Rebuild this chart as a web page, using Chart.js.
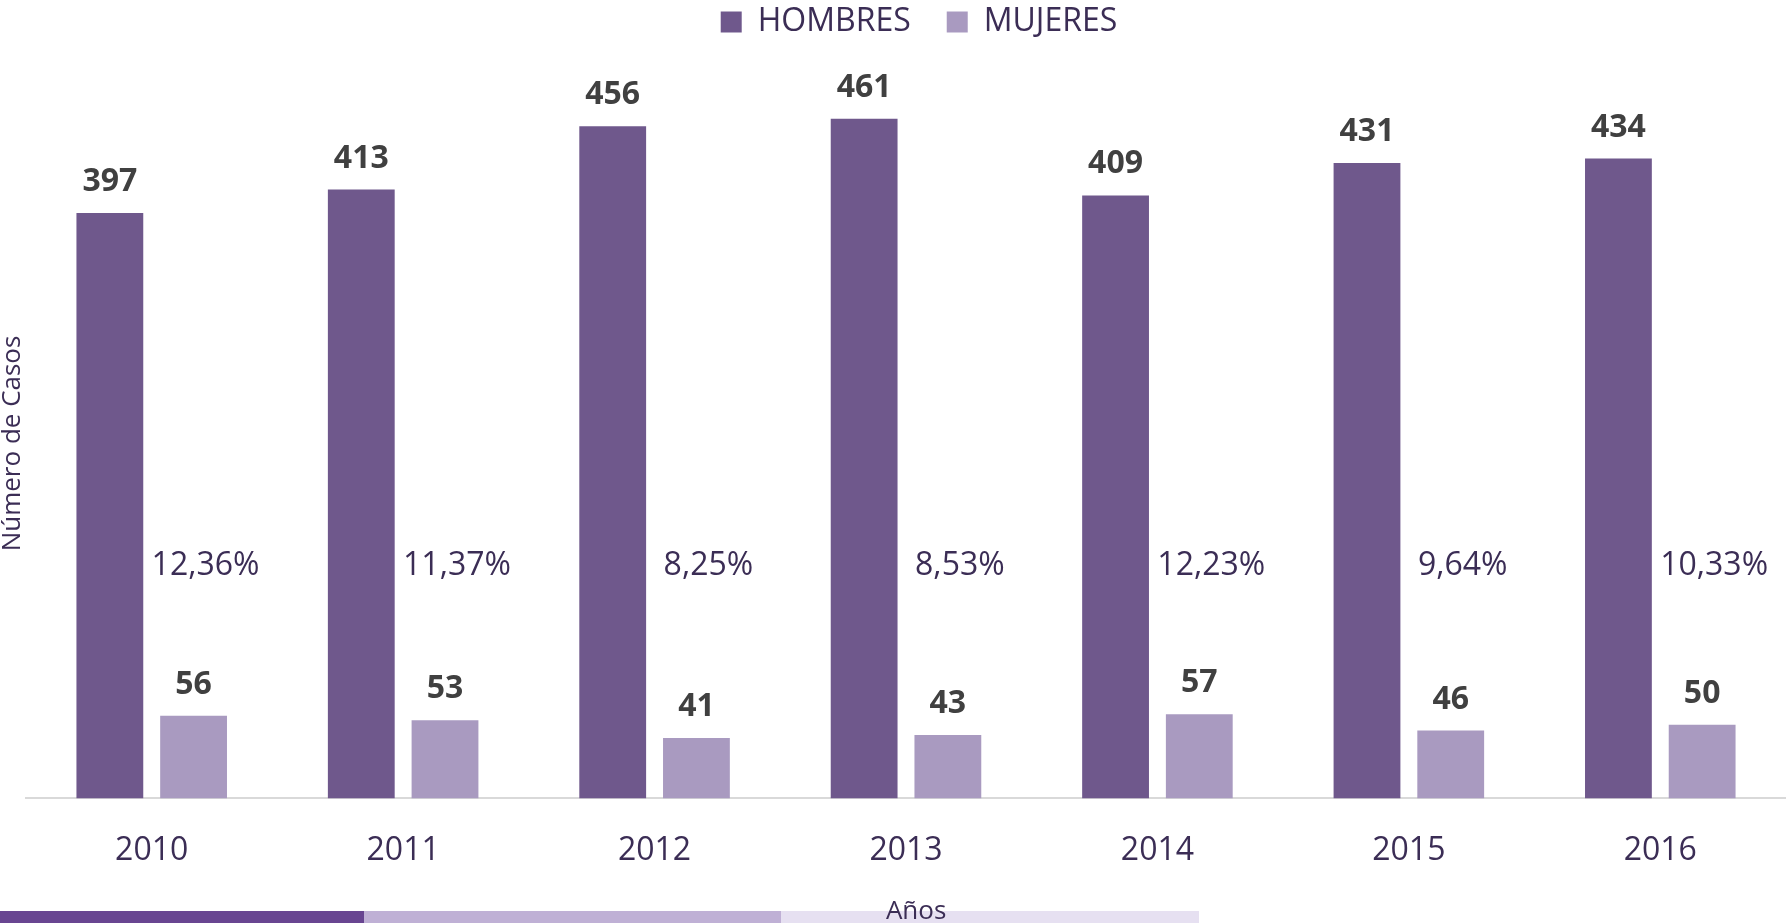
<!DOCTYPE html>
<html lang="es">
<head>
<meta charset="utf-8">
<title>Número de casos por sexo 2010-2016</title>
<script src="https://cdn.jsdelivr.net/npm/chart.js@4.4.1/dist/chart.umd.min.js"></script>
<style>
  html, body { margin: 0; padding: 0; background: #ffffff; }
  #contenedor { position: relative; width: 1786px; height: 923px; }
</style>
</head>
<body>
<div id="contenedor"><canvas id="grafico"></canvas></div>
<script>
const anios = ['2010', '2011', '2012', '2013', '2014', '2015', '2016'];
const hombres = [397, 413, 456, 461, 409, 431, 434];
const mujeres = [56, 53, 41, 43, 57, 46, 50];
const porcentajes = ['12,36%', '11,37%', '8,25%', '8,53%', '12,23%', '9,64%', '10,33%'];

const colorHombres = '#6f588c';
const colorMujeres = '#a99ac0';
const textoOscuro = '#3b2d55';
const fuente = '"Open Sans", "Liberation Sans", sans-serif';

// franja decorativa al pie del grafico
const franjaInferior = {
    id: 'franjaInferior',
    beforeDraw(chart) {
        const ctx = chart.ctx;
        const alto = chart.height;
        const tramos = [
            { desde: 0, hasta: 364, color: '#684591' },
            { desde: 364, hasta: 781, color: '#bfb0d5' },
            { desde: 781, hasta: 1199, color: '#e6e0f1' }
        ];
        ctx.save();
        tramos.forEach(t => {
            ctx.fillStyle = t.color;
            ctx.fillRect(t.desde, alto - 12, t.hasta - t.desde, 12);
        });
        ctx.restore();
    }
};

// la leyenda del original esta un poco corrida a la derecha
const moverLeyenda = {
    id: 'moverLeyenda',
    afterLayout(chart) {
        chart.legend.left += 26;
        chart.legend.right += 26;
    }
};

// valores encima de las barras y porcentaje de mujeres
const etiquetas = {
    id: 'etiquetas',
    afterDatasetsDraw(chart) {
        const ctx = chart.ctx;
        const area = chart.chartArea;
        ctx.save();
        ctx.textAlign = 'center';
        ctx.textBaseline = 'alphabetic';
        ctx.fillStyle = '#404040';
        ctx.font = 'bold 32px ' + fuente;
        chart.data.datasets.forEach((ds, i) => {
            chart.getDatasetMeta(i).data.forEach((barra, j) => {
                ctx.fillText(String(ds.data[j]), barra.x, barra.y - 22);
            });
        });

        const yPorc = area.bottom - 0.3105 * (area.bottom - area.top);
        ctx.font = '32px ' + fuente;
        ctx.fillStyle = textoOscuro;
        ctx.textBaseline = 'middle';
        chart.getDatasetMeta(1).data.forEach((barra, j) => {
            ctx.fillText(porcentajes[j], barra.x + 12, yPorc);
        });
        ctx.restore();
    }
};

new Chart(document.getElementById('grafico'), {
    type: 'bar',
    data: {
        labels: anios,
        datasets: [
            {
                label: 'HOMBRES',
                data: hombres,
                backgroundColor: colorHombres,
                categoryPercentage: 0.666,
                barPercentage: 0.798
            },
            {
                label: 'MUJERES',
                data: mujeres,
                backgroundColor: colorMujeres,
                categoryPercentage: 0.666,
                barPercentage: 0.798
            }
        ]
    },
    options: {
        responsive: true,
        maintainAspectRatio: false,
        animation: false,
        layout: { padding: { top: -30, left: 0, right: 0, bottom: 0 } },
        plugins: {
            tooltip: { enabled: false },
            legend: {
                position: 'top',
                labels: {
                    boxWidth: 21,
                    boxHeight: 21,
                    padding: 36,
                    color: textoOscuro,
                    font: { family: fuente, size: 32 }
                }
            }
        },
        scales: {
            x: {
                grid: { display: false, drawTicks: false },
                border: { display: true, color: '#d9d9d9', width: 2 },
                ticks: {
                    color: textoOscuro,
                    padding: 33,
                    font: { family: fuente, size: 32 }
                },
                title: {
                    display: true,
                    text: '   Años',
                    color: textoOscuro,
                    padding: { top: -7, bottom: -4 },
                    font: { family: fuente, size: 26 }
                }
            },
            y: {
                min: 0,
                max: 509,
                grid: { display: false, drawTicks: false },
                border: { display: false },
                ticks: { display: false },
                title: {
                    display: true,
                    text: 'Número de Casos      ',
                    color: textoOscuro,
                    padding: { top: 0, bottom: 0 },
                    font: { family: fuente, size: 26, lineHeight: 1 }
                }
            }
        }
    },
    plugins: [franjaInferior, moverLeyenda, etiquetas]
});
</script>
</body>
</html>
